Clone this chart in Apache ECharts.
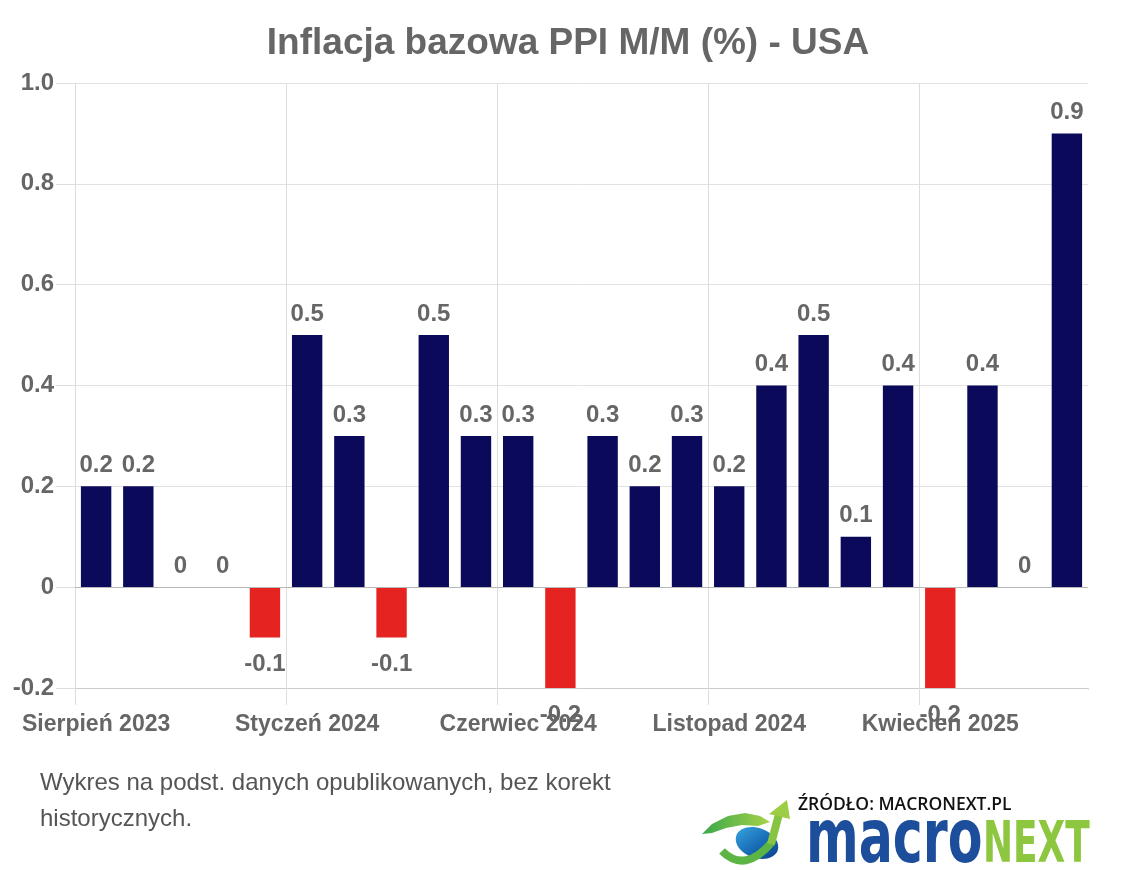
<!DOCTYPE html>
<html lang="pl">
<head>
<meta charset="utf-8">
<title>Inflacja bazowa PPI M/M (%) - USA</title>
<script src="https://cdn.jsdelivr.net/npm/echarts@6/dist/echarts.min.js"></script>
<style>
  html, body { margin: 0; padding: 0; background: #fff; }
  #chart { width: 1136px; height: 870px; }
</style>
</head>
<body>
<div id="chart"></div>
<script>
// dane: miesiace sierpien 2023 - lipiec 2025
var months = [
  'Sierpień 2023', 'Wrzesień 2023', 'Październik 2023', 'Listopad 2023', 'Grudzień 2023',
  'Styczeń 2024', 'Luty 2024', 'Marzec 2024', 'Kwiecień 2024', 'Maj 2024',
  'Czerwiec 2024', 'Lipiec 2024', 'Sierpień 2024', 'Wrzesień 2024', 'Październik 2024',
  'Listopad 2024', 'Grudzień 2024', 'Styczeń 2025', 'Luty 2025', 'Marzec 2025',
  'Kwiecień 2025', 'Maj 2025', 'Czerwiec 2025', 'Lipiec 2025'
];
var values = [0.2, 0.2, 0, 0, -0.1, 0.5, 0.3, -0.1, 0.5, 0.3, 0.3, -0.2,
              0.3, 0.2, 0.3, 0.2, 0.4, 0.5, 0.1, 0.4, -0.2, 0.4, 0, 0.9];
var yTicks = [-0.2, 0, 0.2, 0.4, 0.6, 0.8, 1.0];

var NAVY = '#0b0a5a';
var RED = '#e52421';
var GREY = '#666666';

var barData = values.map(function (v) {
  return {
    value: v,
    itemStyle: { color: v < 0 ? RED : NAVY },
    label: { position: v < 0 ? 'bottom' : 'top', distance: v < 0 ? 15 : 9 }
  };
});

var chart = echarts.init(document.getElementById('chart'), null, { renderer: 'canvas' });

var option = {
  animation: false,
  backgroundColor: '#ffffff',
  title: {
    text: 'Inflacja bazowa PPI M/M (%) - USA',
    left: 'center',
    top: 20,
    textStyle: {
      fontFamily: 'Liberation Sans',
      fontSize: 37,
      fontWeight: 'bold',
      color: GREY
    }
  },
  grid: { left: 75, right: 48, top: 83, bottom: 182, containLabel: false },
  xAxis: {
    type: 'category',
    data: months,
    boundaryGap: true,
    axisLine: { onZero: false, lineStyle: { color: '#cccccc' } },
    axisTick: { show: true, interval: 4, length: 17, lineStyle: { color: '#dddddd' } },
    splitLine: { show: true, interval: 4, showMaxLine: false, lineStyle: { color: '#dddddd' } },
    axisLabel: {
      interval: 4,
      margin: 25,
      fontFamily: 'Liberation Sans',
      fontSize: 23,
      fontWeight: 'bold',
      color: GREY
    }
  },
  yAxis: {
    type: 'value',
    min: yTicks[0],
    max: yTicks[yTicks.length - 1],
    interval: 0.2,
    axisLine: { show: true, lineStyle: { color: '#dddddd' } },
    axisTick: { show: true, length: 19, lineStyle: { color: '#dddddd' } },
    splitLine: { show: true, lineStyle: { color: '#e2e2e2' } },
    axisLabel: {
      margin: 21,
      fontFamily: 'Liberation Sans',
      fontSize: 24,
      fontWeight: 'bold',
      color: GREY,
      formatter: function (v) {
        var r = Math.round(v * 10) / 10;
        if (r === 0) return '0';
        return r.toFixed(1);
      }
    }
  },
  series: [{
    type: 'bar',
    data: barData,
    barWidth: '72%',
    label: {
      show: true,
      fontFamily: 'Liberation Sans',
      fontSize: 24,
      fontWeight: 'bold',
      color: GREY,
      formatter: function (p) { return String(p.value); }
    },
    markLine: {
      silent: true,
      symbol: 'none',
      label: { show: false },
      lineStyle: { color: '#b8b8b8', type: 'solid', width: 1 },
      data: [{ yAxis: 0 }]
    }
  }],
  graphic: [
    // zasloniecie ostatniego ticka osi X (w oryginale go nie ma)
    {
      type: 'rect',
      z: 100,
      shape: { x: 1085, y: 690, width: 8, height: 20 },
      style: { fill: '#ffffff' }
    },
    {
      type: 'text',
      x: 40,
      y: 765,
      style: {
        text: 'Wykres na podst. danych opublikowanych, bez korekt\nhistorycznych.',
        font: '24px "Liberation Sans"',
        fill: '#555555',
        lineHeight: 36
      }
    },
    // logo - swoosh
    {
      type: 'polygon',
      shape: { points: [[702, 834], [712, 824], [728, 816], [745, 813], [760, 816], [770, 822],
                        [758, 826], [742, 825], [726, 828], [712, 833]] },
      style: {
        fill: new echarts.graphic.LinearGradient(0, 0, 1, 0, [
          { offset: 0, color: '#3aa84a' }, { offset: 1, color: '#a6d24a' }
        ])
      }
    },
    {
      type: 'ellipse',
      shape: { cx: 757, cy: 843, rx: 22, ry: 15 },
      rotation: -0.35,
      originX: 757, originY: 843,
      style: {
        fill: new echarts.graphic.LinearGradient(0, 0, 1, 1, [
          { offset: 0, color: '#38a6e0' }, { offset: 0.6, color: '#1565b0' }, { offset: 1, color: '#0e3f8a' }
        ])
      }
    },
    {
      type: 'bezierCurve',
      shape: { x1: 722, y1: 851, cpx1: 745, cpy1: 874, x2: 772, y2: 842 },
      style: { fill: 'none', stroke: '#5cb445', lineWidth: 8 }
    },
    {
      type: 'line',
      shape: { x1: 771, y1: 844, x2: 779, y2: 814 },
      style: { stroke: '#86c441', lineWidth: 8 }
    },
    {
      type: 'polygon',
      shape: { points: [[787, 800], [769, 814], [790, 819]] },
      style: { fill: '#9ccd45' }
    },
    {
      type: 'text',
      x: 798, y: 805,
      style: {
        text: 'ŹRÓDŁO: MACRONEXT.PL',
        font: '600 17.5px "Open Sans"',
        fill: '#111111',
        verticalAlign: 'middle'
      }
    },
    {
      type: 'text',
      x: 806, y: 843,
      scaleX: 0.75,
      style: {
        text: 'macro',
        font: 'bold 75px "DejaVu Sans Condensed"',
        fill: '#1c4e9b',
        verticalAlign: 'middle'
      }
    },
    {
      type: 'text',
      x: 983, y: 847,
      scaleX: 0.7,
      style: {
        text: 'NEXT',
        font: 'bold 57px "DejaVu Sans Condensed"',
        fill: '#8dc63f',
        verticalAlign: 'middle'
      }
    }
  ]
};

chart.setOption(option);
</script>
</body>
</html>
